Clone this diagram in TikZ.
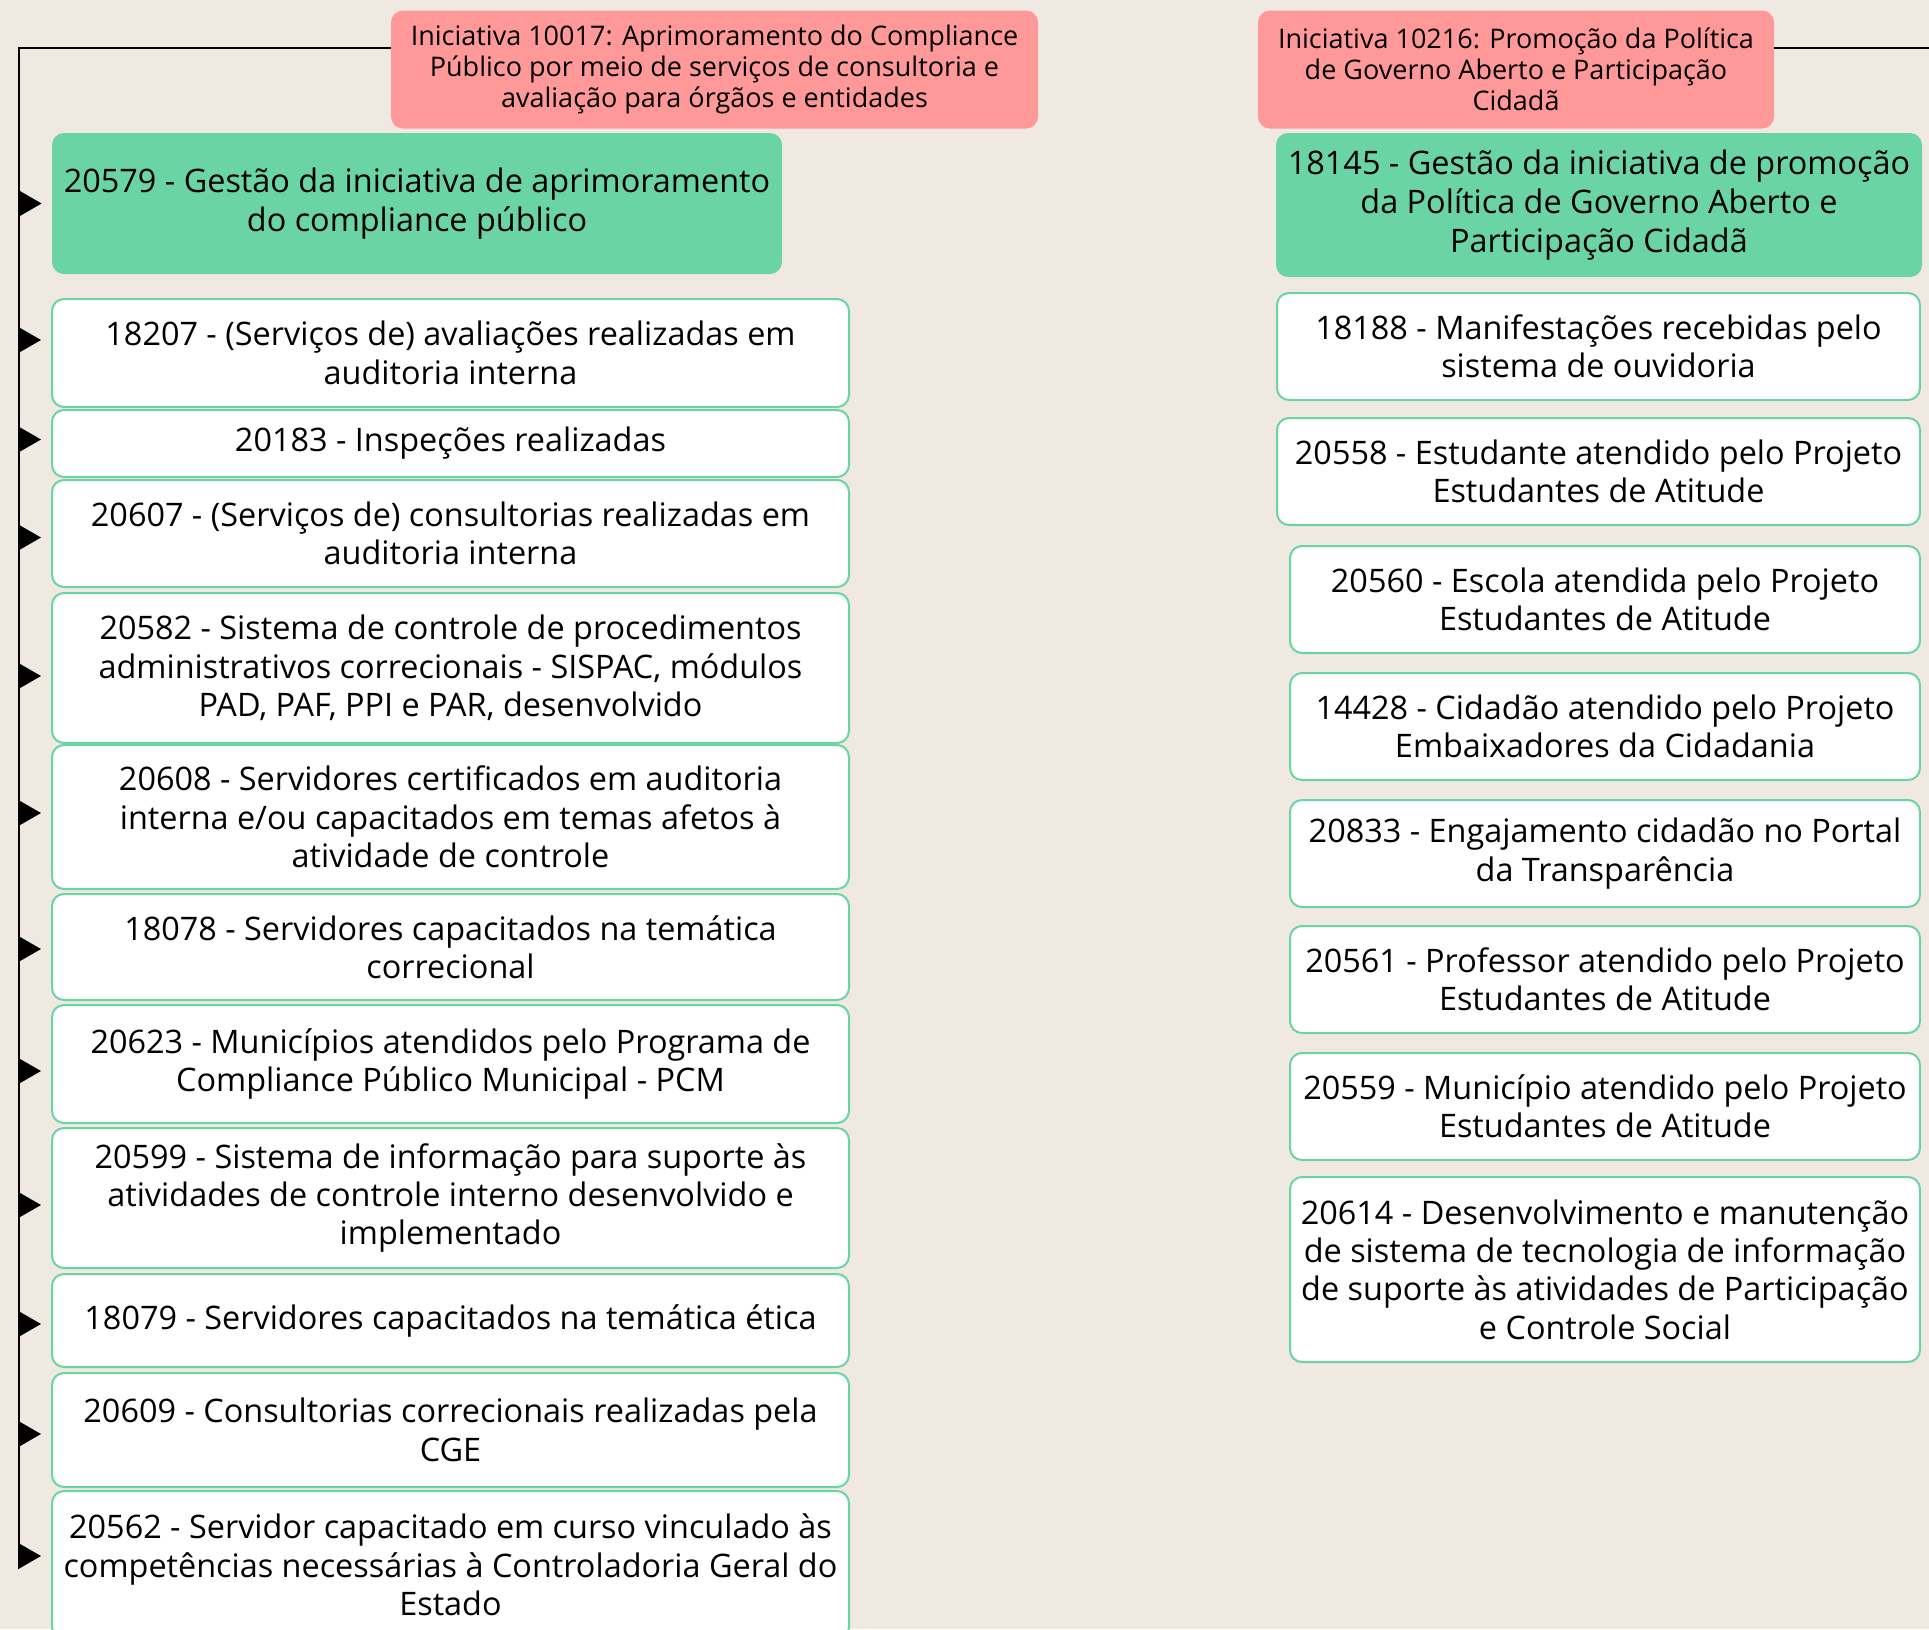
\documentclass[tikz,border=0pt]{standalone}
\usepackage{fontspec}
\setmainfont{Open Sans}
\usetikzlibrary{arrows.meta,calc}
\definecolor{paper}{RGB}{240,233,226}
\definecolor{rosa}{RGB}{255,153,153}
\definecolor{menta}{RGB}{106,212,165}
\tikzset{
  head/.style={fill=rosa,rounded corners=6pt,inner sep=0pt,align=center,
    font=\fontsize{13.5}{15.4}\selectfont,minimum height=59pt},
  gest/.style={fill=menta,rounded corners=6pt,inner sep=0pt,align=center,
    font=\fontsize{16.2}{19.4}\selectfont},
  leaf/.style={fill=white,draw=menta,line width=1pt,rounded corners=6pt,
    inner sep=0pt,align=center,font=\fontsize{16.2}{19.2}\selectfont,
    minimum height=#1*0.5pt},
  trunk/.style={line width=1pt,black},
  arr/.style={line width=1pt,-{Triangle[length=11.5pt,width=13pt]},shorten >=5pt}
}
\begin{document}
\begin{tikzpicture}[x=0.5pt,y=-0.5pt]
  \useasboundingbox[fill=paper] (0,0) rectangle (1929,1629);

  % iniciativas
  \node[head,minimum width=323.5pt] (hdrA) at (714.5,69.5) {Iniciativa 10017: Aprimoramento do Compliance\\Público por meio de serviços de consultoria e\\avaliação para órgãos e entidades};
  \node[head,minimum width=258pt] (hdrB) at (1516,69.5) {Iniciativa 10216: Promoção da Política\\de Governo Aberto e Participação\\Cidadã};

  \node[gest,minimum width=365pt,minimum height=70.5pt] (b20579) at (417,203.5) {20579 - Gestão da iniciativa de aprimoramento\\do compliance público};
  \node[gest,minimum width=323pt,minimum height=72pt] (b18145) at (1599,205) {18145 - Gestão da iniciativa de promoção\\da Política de Governo Aberto e\\Participação Cidadã};

  % coluna da esquerda
  \begin{scope}[every node/.append style={minimum width=398.5pt}]
    \node[leaf=108] (b18207) at (450.5,353) {18207 - (Serviços de) avaliações realizadas em\\auditoria interna};
    \node[leaf=67]  (b20183) at (450.5,443.5) {20183 - Inspeções realizadas};
    \node[leaf=107] (b20607) at (450.5,533.5) {20607 - (Serviços de) consultorias realizadas em\\auditoria interna};
    \node[leaf=150] (b20582) at (450.5,668) {20582 - Sistema de controle de procedimentos\\administrativos correcionais - SISPAC, módulos\\PAD, PAF, PPI e PAR, desenvolvido};
    \node[leaf=144] (b20608) at (450.5,817) {20608 - Servidores certificados em auditoria\\interna e/ou capacitados em temas afetos à\\atividade de controle};
    \node[leaf=106] (b18078) at (450.5,947) {18078 - Servidores capacitados na temática\\correcional};
    \node[leaf=118] (b20623) at (450.5,1064) {20623 - Municípios atendidos pelo Programa de\\Compliance Público Municipal - PCM};
    \node[leaf=140] (b20599) at (450.5,1198) {20599 - Sistema de informação para suporte às\\atividades de controle interno desenvolvido e\\implementado};
    \node[leaf=93]  (b18079) at (450.5,1320.5) {18079 - Servidores capacitados na temática ética};
    \node[leaf=114] (b20609) at (450.5,1430) {20609 - Consultorias correcionais realizadas pela\\CGE};
    \node[leaf=148] (b20562) at (450.5,1565) {20562 - Servidor capacitado em curso vinculado às\\competências necessárias à Controladoria Geral do\\Estado};
  \end{scope}

  % coluna da direita
  \node[leaf=107,minimum width=321.5pt] (b18188) at (1598.5,346.5) {18188 - Manifestações recebidas pelo\\sistema de ouvidoria};
  \node[leaf=107,minimum width=321.5pt] (b20558) at (1598.5,471.5) {20558 - Estudante atendido pelo Projeto\\Estudantes de Atitude};
  \begin{scope}[every node/.append style={minimum width=315pt}]
    \node[leaf=107] (b20560) at (1605,599.5) {20560 - Escola atendida pelo Projeto\\Estudantes de Atitude};
    \node[leaf=107] (b14428) at (1605,726.5) {14428 - Cidadão atendido pelo Projeto\\Embaixadores da Cidadania};
    \node[leaf=107] (b20833) at (1605,853.5) {20833 - Engajamento cidadão no Portal\\da Transparência};
    \node[leaf=107] (b20561) at (1605,979.5) {20561 - Professor atendido pelo Projeto\\Estudantes de Atitude};
    \node[leaf=107] (b20559) at (1605,1106.5) {20559 - Município atendido pelo Projeto\\Estudantes de Atitude};
    \node[leaf=185] (b20614) at (1605,1269.5) {20614 - Desenvolvimento e manutenção\\de sistema de tecnologia de informação\\de suporte às atividades de Participação\\e Controle Social};
  \end{scope}

  % ligacoes
  \coordinate (topA) at (19,48);
  \coordinate (endA) at (19,1568);
  \coordinate (topB) at (1929,48);
  \draw[trunk] (hdrA.west |- topA) -- (topA) -- (endA);
  \draw[trunk] (hdrB.east |- topB) -- (topB);
  \foreach \b/\dy in {b20579/0,b18207/-13,b20183/-4,b20607/4,b20582/8,b20608/-4,b18078/2,b20623/7,b20599/7,b18079/3.5,b20609/4,b20562/-9}
    \draw[arr] ($(topA |- \b.west)+(0,\dy)$) -- ($(\b.west)+(0,\dy)$);
\end{tikzpicture}
\end{document}
